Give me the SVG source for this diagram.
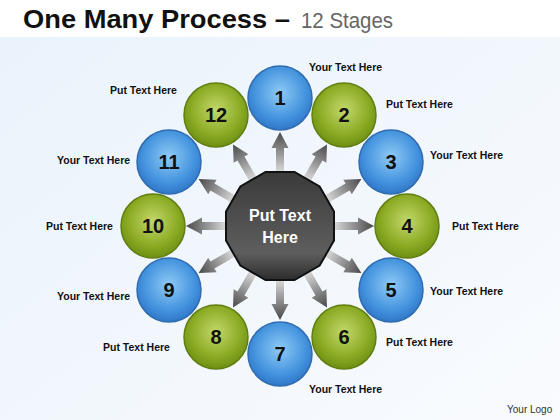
<svg xmlns="http://www.w3.org/2000/svg" width="560" height="420" viewBox="0 0 560 420">
<style>
.lbl{font-family:"Liberation Sans",Arial,sans-serif;font-weight:bold;font-size:10.5px;fill:#111}
.num{font-family:"Liberation Sans",Arial,sans-serif;font-weight:bold;font-size:20px;fill:#111;text-anchor:middle}
.blue{fill:url(#gBlue);stroke:#2f6db0;stroke-width:1.5}
.green{fill:url(#gGreen);stroke:#617f12;stroke-width:1.5}
.arr{fill:url(#gArr)}
</style>
<defs>
<linearGradient id="bg" x1="0" y1="0" x2="1" y2="1">
<stop offset="0" stop-color="#e9f2fb"/>
<stop offset="1" stop-color="#f9fbfe"/>
</linearGradient>
<radialGradient id="gBlue" cx="0.5" cy="0.42" r="0.6">
<stop offset="0" stop-color="#8fcaf5"/>
<stop offset="0.65" stop-color="#4695df"/>
<stop offset="1" stop-color="#2d74c6"/>
</radialGradient>
<radialGradient id="gGreen" cx="0.5" cy="0.42" r="0.6">
<stop offset="0" stop-color="#c2d86a"/>
<stop offset="0.65" stop-color="#8bab24"/>
<stop offset="1" stop-color="#6c8c12"/>
</radialGradient>
<linearGradient id="gArr" x1="0" y1="0" x2="1" y2="0">
<stop offset="0" stop-color="#e8e8e8"/>
<stop offset="1" stop-color="#484848"/>
</linearGradient>
<linearGradient id="gPoly" x1="0" y1="0" x2="0" y2="1">
<stop offset="0" stop-color="#3a3a3a"/>
<stop offset="0.75" stop-color="#5e5e5e"/>
<stop offset="1" stop-color="#2c2c2c"/>
</linearGradient>
<path id="arrow" class="arr" d="M50,-4 L78,-4 L78,-8.5 L94,0 L78,8.5 L78,4 L50,4 Z"/>
</defs>
<rect width="560" height="420" fill="url(#bg)"/>
<rect width="560" height="37" fill="#ffffff"/>
<text x="23" y="28" font-family="Liberation Sans,Arial,sans-serif" font-weight="bold" font-size="25" fill="#111" textLength="267" lengthAdjust="spacingAndGlyphs">One Many Process –</text>
<text x="301" y="28" font-family="Liberation Sans,Arial,sans-serif" font-size="22" fill="#666" textLength="92" lengthAdjust="spacingAndGlyphs">12 Stages</text>
<text x="507" y="413" font-family="Liberation Sans,Arial,sans-serif" font-size="10" fill="#333">Your Logo</text>

<g id="connectors" transform="translate(280,226)">
<use href="#arrow" transform="rotate(-90)"/>
<use href="#arrow" transform="rotate(-60)"/>
<use href="#arrow" transform="rotate(-30)"/>
<use href="#arrow" transform="rotate(0)"/>
<use href="#arrow" transform="rotate(30)"/>
<use href="#arrow" transform="rotate(60)"/>
<use href="#arrow" transform="rotate(90)"/>
<use href="#arrow" transform="rotate(120)"/>
<use href="#arrow" transform="rotate(150)"/>
<use href="#arrow" transform="rotate(180)"/>
<use href="#arrow" transform="rotate(210)"/>
<use href="#arrow" transform="rotate(240)"/>
</g>

<g id="center">
<polygon points="334,211.5 334,240.5 319.6,265.6 294.5,280 265.5,280 240.4,265.6 226,240.5 226,211.5 240.4,186.4 265.5,172 294.5,172 319.6,186.4" fill="url(#gPoly)" stroke="#111" stroke-width="2"/>
<text x="280" y="221" text-anchor="middle" font-family="Liberation Sans,Arial,sans-serif" font-weight="bold" font-size="16" fill="#fff">Put Text</text>
<text x="280" y="243" text-anchor="middle" font-family="Liberation Sans,Arial,sans-serif" font-weight="bold" font-size="16" fill="#fff">Here</text>
</g>

<g id="n1"><circle class="blue" cx="280" cy="98" r="32"/><text class="num" x="280" y="105">1</text><text class="lbl" x="309" y="71">Your Text Here</text></g>
<g id="n2"><circle class="green" cx="344" cy="115" r="32"/><text class="num" x="344" y="122">2</text><text class="lbl" x="386" y="108">Put Text Here</text></g>
<g id="n3"><circle class="blue" cx="391" cy="162" r="32"/><text class="num" x="391" y="169">3</text><text class="lbl" x="430" y="159">Your Text Here</text></g>
<g id="n4"><circle class="green" cx="407" cy="226" r="32"/><text class="num" x="407" y="233">4</text><text class="lbl" x="452" y="230">Put Text Here</text></g>
<g id="n5"><circle class="blue" cx="391" cy="290" r="32"/><text class="num" x="391" y="297">5</text><text class="lbl" x="430" y="295">Your Text Here</text></g>
<g id="n6"><circle class="green" cx="344" cy="337" r="32"/><text class="num" x="344" y="344">6</text><text class="lbl" x="386" y="346">Put Text Here</text></g>
<g id="n7"><circle class="blue" cx="280" cy="354" r="32"/><text class="num" x="280" y="361">7</text><text class="lbl" x="309" y="393">Your Text Here</text></g>
<g id="n8"><circle class="green" cx="216" cy="337" r="32"/><text class="num" x="216" y="344">8</text><text class="lbl" x="103" y="351">Put Text Here</text></g>
<g id="n9"><circle class="blue" cx="169" cy="290" r="32"/><text class="num" x="169" y="297">9</text><text class="lbl" x="57" y="300">Your Text Here</text></g>
<g id="n10"><circle class="green" cx="153" cy="226" r="32"/><text class="num" x="153" y="233">10</text><text class="lbl" x="46" y="230">Put Text Here</text></g>
<g id="n11"><circle class="blue" cx="169" cy="162" r="32"/><text class="num" x="169" y="169">11</text><text class="lbl" x="57" y="164">Your Text Here</text></g>
<g id="n12"><circle class="green" cx="216" cy="115" r="32"/><text class="num" x="216" y="122">12</text><text class="lbl" x="110" y="94">Put Text Here</text></g>
</svg>
